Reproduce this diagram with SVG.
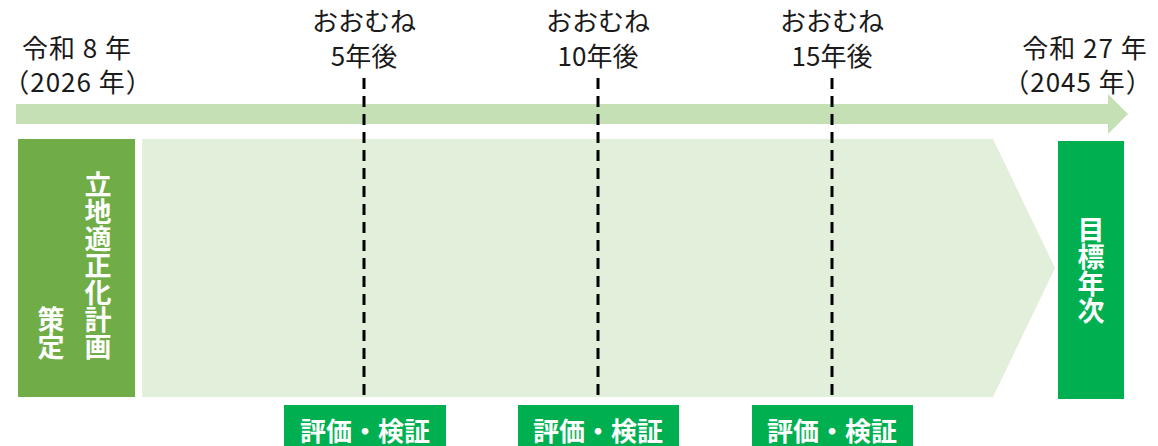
<svg xmlns="http://www.w3.org/2000/svg" width="1158" height="446" viewBox="0 0 1158 446">
<style>
.t{font-family:"Noto Sans CJK JP","Noto Sans",sans-serif;font-size:26px;fill:#1a1a1a;text-anchor:middle}
.y{letter-spacing:1px}
.v{font-family:"Noto Sans CJK JP",sans-serif;font-size:27px;font-weight:bold;fill:#fff;writing-mode:vertical-rl;text-anchor:start}
.l{font-family:"Noto Sans CJK JP",sans-serif;font-size:26px;font-weight:bold;fill:#fff;text-anchor:middle}
.d{stroke:#000;stroke-width:3;stroke-dasharray:11 7;fill:none}
.g{fill:#00B050}
</style>
<rect width="1158" height="446" fill="#fff"/>
<g id="timeline">
<polygon points="16,104 1108,104 1108,94 1128,114 1108,134 1108,124 16,124" fill="#C5E0B4"/>
</g>
<g id="period">
<polygon points="142,139 993,139 1055,268 993,397 142,397" fill="#E2EFDA"/>
</g>
<g id="start-box">
<rect x="18" y="139" width="117" height="258" fill="#70AD47"/>
<text class="v" x="98" y="171">立地適正化計画</text>
<text class="v" x="51" y="306">策定</text>
</g>
<g id="end-box">
<rect class="g" x="1058" y="141" width="66" height="258"/>
<text class="v" x="1091" y="216">目標年次</text>
</g>
<g id="connectors">
<line class="d" x1="364" y1="78" x2="364" y2="397"/>
<line class="d" x1="598" y1="78" x2="598" y2="397"/>
<line class="d" x1="832" y1="78" x2="832" y2="397"/>
</g>
<g id="start-label">
<text class="t y" x="77" y="58">令和 8 年</text>
<text class="t y" x="78" y="92">（2026 年）</text>
</g>
<g id="end-label">
<text class="t y" x="1085" y="58">令和 27 年</text>
<text class="t y" x="1078" y="92">（2045 年）</text>
</g>
<g id="m5">
<text class="t" x="364" y="31">おおむね</text>
<text class="t" x="364" y="66">5年後</text>
<rect class="g" x="284" y="405" width="162" height="41"/>
<text class="l" x="365" y="441">評価・検証</text>
</g>
<g id="m10">
<text class="t" x="598" y="31">おおむね</text>
<text class="t" x="598" y="66">10年後</text>
<rect class="g" x="518" y="405" width="161" height="41"/>
<text class="l" x="598" y="441">評価・検証</text>
</g>
<g id="m15">
<text class="t" x="832" y="31">おおむね</text>
<text class="t" x="832" y="66">15年後</text>
<rect class="g" x="752" y="405" width="161" height="41"/>
<text class="l" x="832" y="441">評価・検証</text>
</g>
</svg>
